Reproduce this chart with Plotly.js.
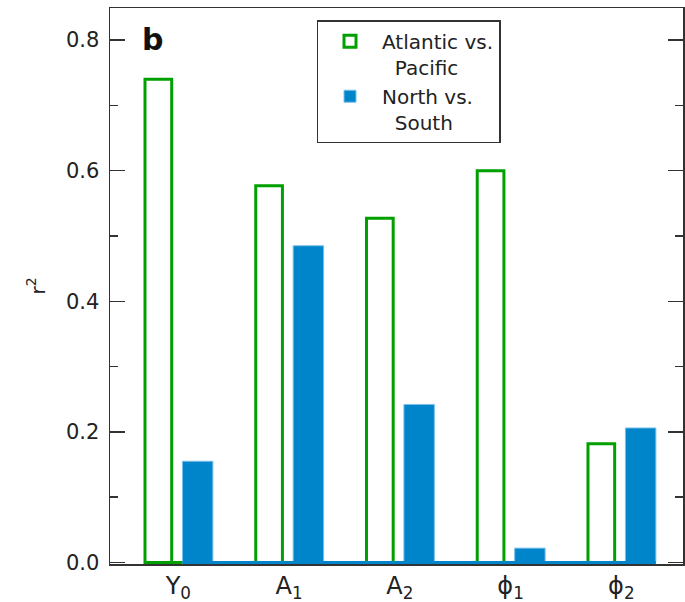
<!DOCTYPE html>
<html>
<head>
<meta charset="utf-8">
<script src="https://cdn.plot.ly/plotly-3.0.1.min.js"></script>
<style>html,body{margin:0;padding:0;background:#fff;}#chart{width:685px;height:602px;}</style>
</head>
<body>
<div id="chart"></div>
<script>
// ---- data ----
const categories = ['Y<sub>0</sub>', 'A<sub>1</sub>', 'A<sub>2</sub>', '\u03D5<sub>1</sub>', '\u03D5<sub>2</sub>'];
const atlanticPacific = [0.740, 0.577, 0.527, 0.600, 0.182];
const northSouth = [0.155, 0.485, 0.242, 0.022, 0.206];
const yTickVals = [0.0, 0.2, 0.4, 0.6, 0.8];
const yTickText = ['0.0', '0.2', '0.4', '0.6', '0.8'];
const seriesNames = ['Atlantic vs.<br>\u00a0\u00a0Pacific', 'North vs.<br>\u00a0\u00a0South'];

// ---- styles ----
const GREEN = '#00a000';
const BLUE = '#0085ca';
const AXIS = '#333333';
const FONT = 'DejaVu Sans, sans-serif';
const pos = categories.map((_, i) => i);
const gW = 0.241, gOff = -0.301;
const bW = 0.275, bOff = 0.037;

const traces = [
  {
    type: 'bar', name: seriesNames[0], x: pos, y: atlanticPacific,
    width: gW, offset: gOff,
    marker: {color: 'rgba(255,255,255,0)', line: {color: GREEN, width: 3}},
    hoverinfo: 'y'
  },
  {
    type: 'bar', name: seriesNames[1], x: pos, y: northSouth,
    width: bW, offset: bOff,
    marker: {color: BLUE, line: {color: '#7cc0ea', width: 1}},
    hoverinfo: 'y'
  },
  {
    type: 'scatter', mode: 'lines', showlegend: false, hoverinfo: 'skip',
    x: [pos[0] + gOff, pos[0] + bOff], y: [0, 0],
    line: {color: GREEN, width: 3}
  },
  {
    type: 'scatter', mode: 'lines', showlegend: false, hoverinfo: 'skip',
    x: [pos[0] + bOff, pos[pos.length - 1] + bOff + bW], y: [0, 0],
    line: {color: BLUE, width: 3}
  }
];

const layout = {
  width: 685, height: 602,
  margin: {l: 110, r: 2, t: 8, b: 38, pad: 0},
  paper_bgcolor: '#fff', plot_bgcolor: '#fff',
  font: {family: FONT, color: '#222', size: 20},
  barmode: 'overlay',
  showlegend: true,
  legend: {
    x: 0.3604, y: 0.978, xanchor: 'left', yanchor: 'top',
    bordercolor: AXIS, borderwidth: 1.5, bgcolor: '#fff',
    font: {family: FONT, size: 20, color: '#222'},
    valign: 'top', tracegroupgap: 4, itemwidth: 54
  },
  xaxis: {
    range: [-0.617, 4.557], tickmode: 'array', tickvals: pos, ticktext: categories,
    showgrid: false, zeroline: false, ticks: '',
    showline: true, linecolor: AXIS, linewidth: 1.5, mirror: true,
    tickfont: {family: FONT, size: 24, color: '#222'}
  },
  yaxis: {
    range: [-0.0023, 0.849], tickmode: 'array', tickvals: yTickVals, ticktext: yTickText,
    showgrid: false, zeroline: false,
    ticks: 'inside', ticklen: 15, tickwidth: 1.5, tickcolor: AXIS,
    minor: {dtick: 0.1, tick0: 0, ticks: 'inside', ticklen: 8, tickwidth: 1.5, tickcolor: AXIS, showgrid: false},
    showline: true, linecolor: AXIS, linewidth: 1.5, mirror: 'allticks',
    ticklabelstandoff: 5,
    tickfont: {family: FONT, size: 21, color: '#222'},
    title: {text: 'r<sup>2</sup>', font: {family: FONT, size: 20, color: '#222'}, standoff: 15}
  },
  annotations: [{
    text: '<b>b</b>', xref: 'paper', yref: 'paper', x: 0.052, y: 0.978,
    xanchor: 'left', yanchor: 'top', showarrow: false,
    font: {family: FONT, size: 30, color: '#111'}
  }]
};

Plotly.newPlot('chart', traces, layout, {displayModeBar: false, staticPlot: true});
</script>
</body>
</html>
